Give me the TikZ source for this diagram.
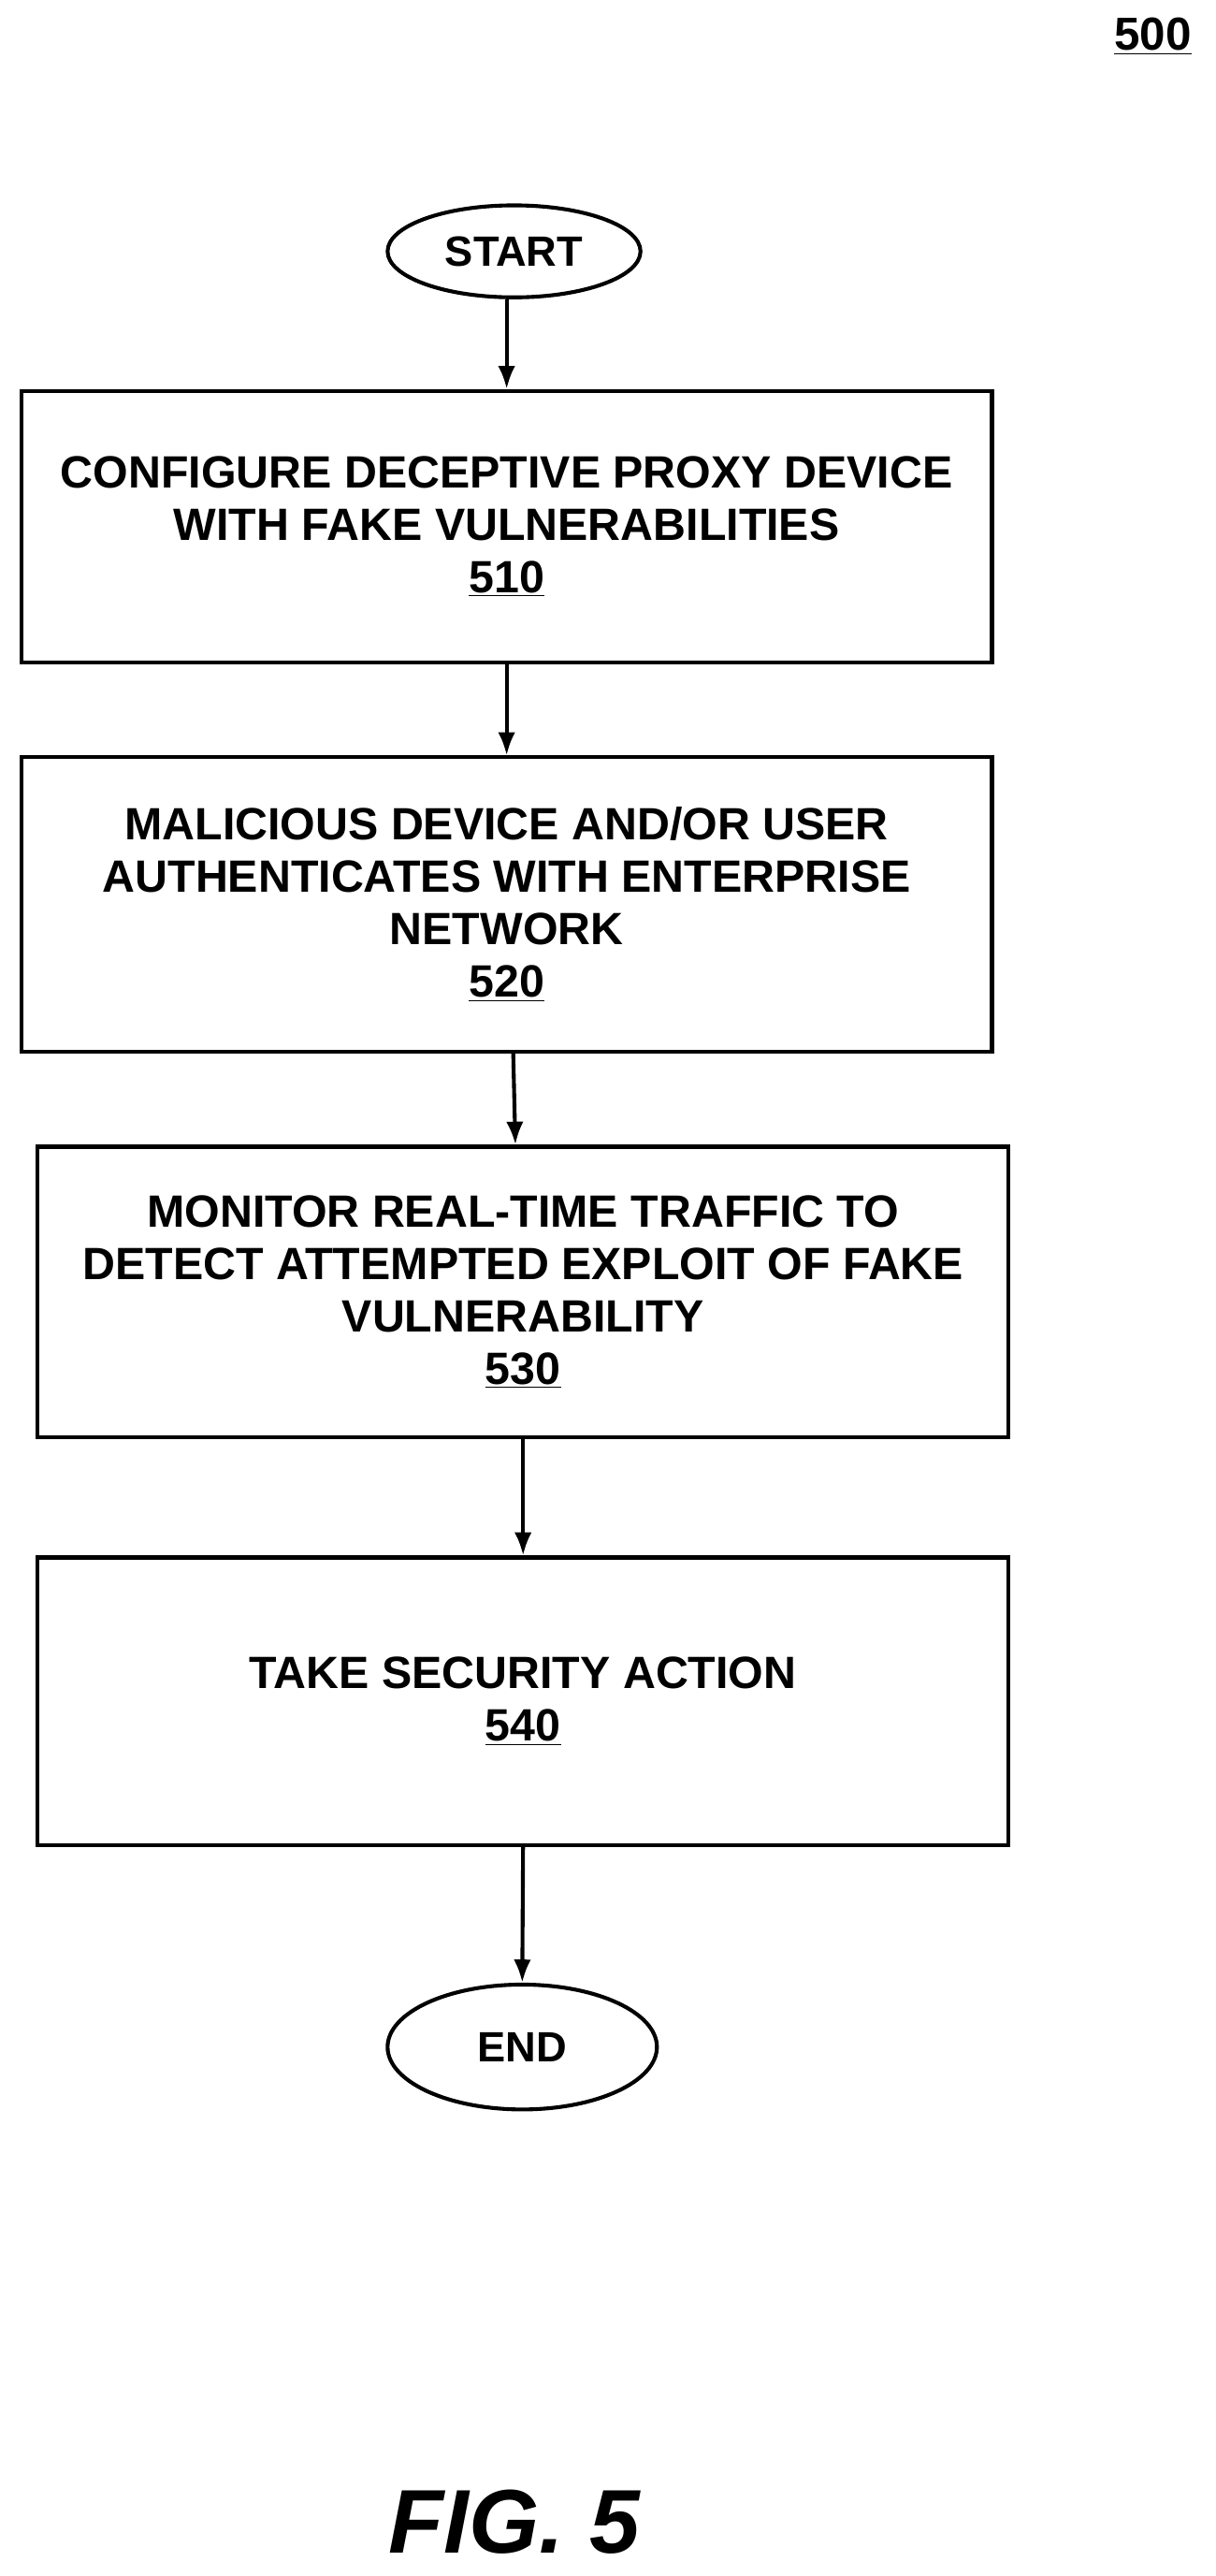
\documentclass[tikz,border=0pt]{standalone}
\usepackage{fontspec}
\setmainfont{Liberation Sans}
\usetikzlibrary{shapes.geometric,arrows.meta}
\tikzset{
  stepbox/.style={draw, line width=2pt, align=center, font=\bfseries\fontsize{23.5}{27.2}\selectfont, inner sep=0pt},
  term/.style={draw, ellipse, line width=2pt, font=\bfseries\fontsize{22}{26}\selectfont, inner sep=0pt},
  flow/.style={-{Latex[length=12pt,width=9pt]}, line width=2pt}
}
\begin{document}
\begin{tikzpicture}[x=0.03cm,y=0.03cm]
    \useasboundingbox (0,0) rectangle (740,-1568);
    % figure number
    \node[font=\bfseries\fontsize{24}{27}\selectfont] (num) at (702,-22) {\underline{500}};
    % terminals
    \node[term, minimum width=154*0.03cm, minimum height=56*0.03cm] (start) at (313,-153) {START};
    \node[term, minimum width=164*0.03cm, minimum height=76*0.03cm] (end) at (318,-1246) {END};
    % steps
    \node[stepbox, minimum width=591*0.03cm, minimum height=165*0.03cm] (b510) at (308.5,-320.5)
        {CONFIGURE DECEPTIVE PROXY DEVICE\\WITH FAKE VULNERABILITIES\\\underline{510}};
    \node[stepbox, minimum width=591*0.03cm, minimum height=179*0.03cm] (b520) at (308.5,-550.5)
        {MALICIOUS DEVICE AND/OR USER\\AUTHENTICATES WITH ENTERPRISE\\NETWORK\\\underline{520}};
    \node[stepbox, minimum width=591*0.03cm, minimum height=177*0.03cm] (b530) at (318.5,-786.5)
        {MONITOR REAL-TIME TRAFFIC TO\\DETECT ATTEMPTED EXPLOIT OF FAKE\\VULNERABILITY\\\underline{530}};
    \node[stepbox, minimum width=591*0.03cm, minimum height=175*0.03cm] (b540) at (318.5,-1035.5)
        {TAKE SECURITY ACTION\\\underline{540}};
    % connectors
    \draw[flow] (b510.north |- start.south) -- (b510.north);
    \draw[flow] (b510.south) -- (b520.north);
    \draw[flow] (b520.south) ++(4,0) -- ([xshift=-4]b530.north);
    \draw[flow] (b530.south) -- (b540.north);
    \draw[flow] (b540.south) -- (end.north);
    % caption
    \node[font=\bfseries\itshape\fontsize{47}{52}\selectfont] (fig) at (313,-1535) {FIG. 5};
\end{tikzpicture}
\end{document}
